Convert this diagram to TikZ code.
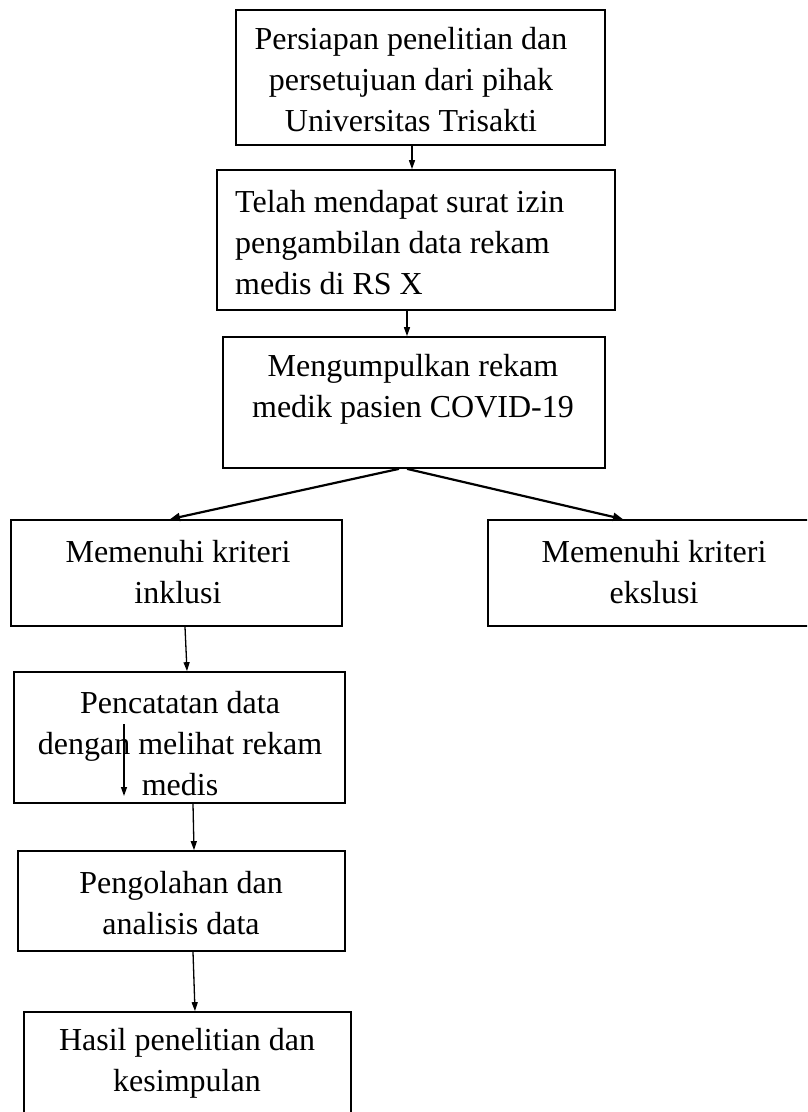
\documentclass[tikz,border=0pt]{standalone}
\usepackage{fontspec}
\setmainfont{Liberation Serif}
\usetikzlibrary{arrows.meta}
\begin{document}
\begin{tikzpicture}[x=1pt,y=-1pt,
  boxshape/.style={draw, line width=1.7pt, inner sep=0pt},
  txt/.style={font=\fontsize{32}{41}\selectfont, align=center, inner sep=0pt},
  conn/.style={line width=1.3pt, -{Triangle[length=9pt,width=6pt]}},
  thickconn/.style={line width=2.2pt, -{Triangle[length=10pt,width=8pt]}}]
\useasboundingbox (0,0) rectangle (807,1112);
\clip (0,0) rectangle (807,1112);
\fill[white] (0,0) rectangle (807,1112);
% boxes
\node[boxshape, minimum width=369pt, minimum height=135pt] (b1) at (420.5,77.5) {};
\node[boxshape, minimum width=398pt, minimum height=140pt] (b2) at (416,240) {};
\node[boxshape, minimum width=382pt, minimum height=131pt] (b3) at (414,402.5) {};
\node[boxshape, minimum width=331pt, minimum height=106pt] (b4) at (176.5,573) {};
\node[boxshape, minimum width=322pt, minimum height=106pt] (b5) at (649,573) {};
\node[boxshape, minimum width=331pt, minimum height=131pt] (b6) at (179.5,737.5) {};
\node[boxshape, minimum width=327pt, minimum height=100pt] (b7) at (181.5,901) {};
\node[boxshape, minimum width=327pt, minimum height=120pt] (b8) at (187.5,1072) {};
% texts
\node[txt] (t1) at (411,80) {Persiapan penelitian dan\\persetujuan dari pihak\\Universitas Trisakti};
\node[txt, align=left, anchor=west] (t2) at (235,243) {Telah mendapat surat izin\\pengambilan data rekam\\medis di RS X};
\node[txt] (t3) at (413,389) {Mengumpulkan rekam\\medik pasien COVID-19};
\node[txt] (t4) at (178,572) {Memenuhi kriteri\\inklusi};
\node[txt] (t5) at (654,572) {Memenuhi kriteri\\ekslusi};
\node[txt] (t6) at (180,744) {Pencatatan data\\dengan melihat rekam\\medis};
\node[txt] (t7) at (181,903) {Pengolahan dan\\analisis data};
\node[txt] (t8) at (187,1063) {Hasil penelitian dan\\kesimpulan};
% connectors
\draw[conn] ([xshift=-8.5pt]b1.south) -- ([xshift=-4pt]b2.north);
\draw[conn] ([xshift=-9pt]b2.south) -- ([xshift=-7pt]b3.north);
\draw[thickconn] ([xshift=-15pt]b3.south) -- ([xshift=-6.5pt]b4.north);
\draw[thickconn] ([xshift=-7pt]b3.south) -- ([xshift=-26pt]b5.north);
\draw[conn] ([xshift=8.5pt]b4.south) -- ([xshift=7.5pt]b6.north);
\coordinate (s1) at (124,724);
\coordinate (s2) at (124,796);
\draw[conn] (s1) -- (s2);
\draw[conn] ([xshift=13.5pt]b6.south) -- ([xshift=12.5pt]b7.north);
\draw[conn] ([xshift=11.5pt]b7.south) -- ([xshift=7.5pt]b8.north);
\end{tikzpicture}
\end{document}
